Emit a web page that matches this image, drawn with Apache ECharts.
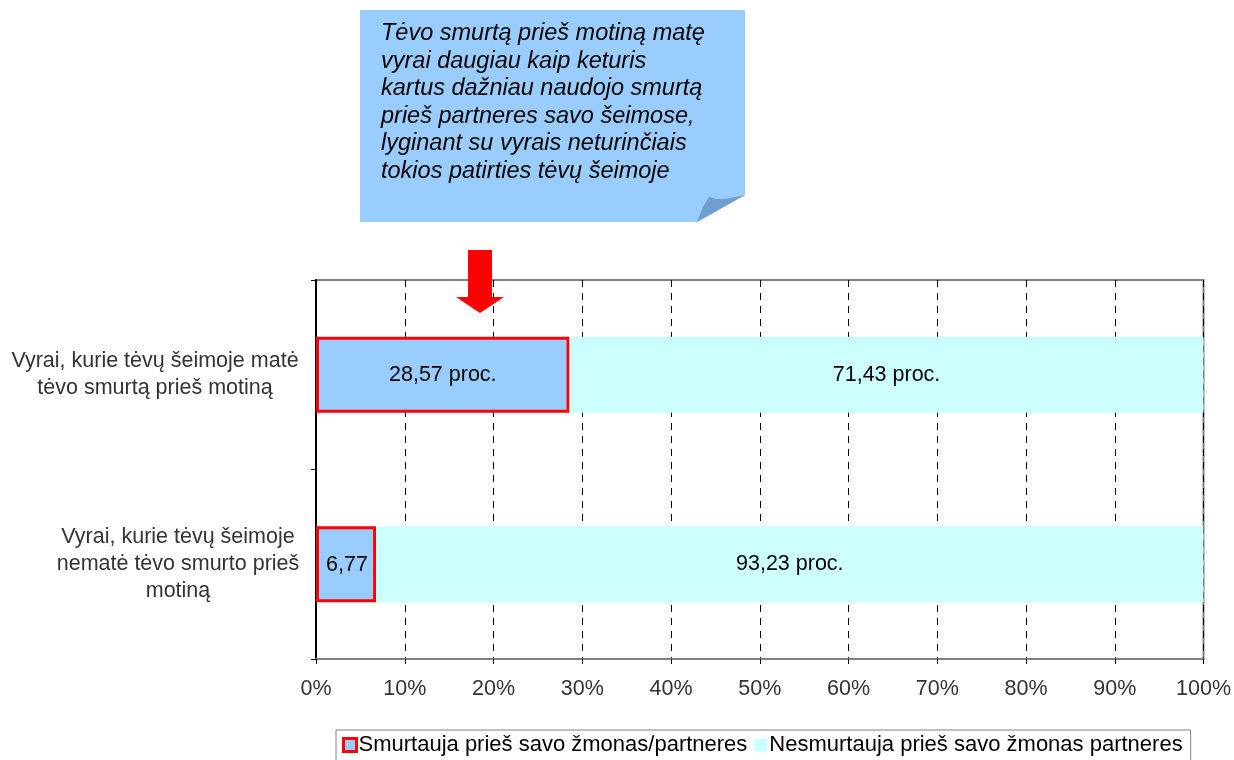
<!DOCTYPE html>
<html>
<head>
<meta charset="utf-8">
<script src="https://cdn.jsdelivr.net/npm/echarts@6/dist/echarts.min.js"></script>
<style>
html,body{margin:0;padding:0;background:#fff;}
#chart{width:1234px;height:760px;}
</style>
</head>
<body>
<div id="chart"></div>
<script>
const categories = [
  'Vyrai, kurie tėvų šeimoje matė\ntėvo smurtą prieš motiną',
  'Vyrai, kurie tėvų šeimoje\nnematė tėvo smurto prieš\nmotiną'
];
const seriesNames = ['Smurtauja prieš savo žmonas/partneres', 'Nesmurtauja prieš savo žmonas partneres'];
const violentValues = [28.57, 6.77];
const nonViolentValues = [71.43, 93.23];
const violentLabels = ['28,57 proc.', '6,77'];
const nonViolentLabels = ['71,43 proc.', '93,23 proc.'];
const xTickLabels = ['0%','10%','20%','30%','40%','50%','60%','70%','80%','90%','100%'];
const calloutText = 'Tėvo smurtą prieš motiną matę\nvyrai daugiau kaip keturis\nkartus dažniau naudojo smurtą\nprieš partneres savo šeimose,\nlyginant su vyrais neturinčiais\ntokios patirties tėvų šeimoje';

const font = '"Liberation Sans", Arial, sans-serif';
const chart = echarts.init(document.getElementById('chart'));
const labelStyles = ['a', 'b'];
const barLabelStyles = ['n', 'o'];

chart.setOption({
  animation: false,
  backgroundColor: '#fff',
  grid: {
    left: 316, right: 29, top: 280, bottom: 101,
    show: true, borderColor: '#808080', borderWidth: 2, backgroundColor: 'transparent'
  },
  xAxis: {
    type: 'value', min: 0, max: 100, interval: 10,
    axisLine: { show: true, lineStyle: { color: '#808080', width: 2 } },
    axisTick: { show: true, length: 5, lineStyle: { color: '#000' } },
    axisLabel: {
      margin: 19, fontFamily: font, fontSize: 21.5, color: '#333',
      formatter: (v) => xTickLabels[Math.round(v / 10)]
    },
    splitLine: { show: true, lineStyle: { color: '#000', type: [7, 6], width: 1 } }
  },
  yAxis: {
    type: 'category', inverse: true, data: categories,
    axisLine: { show: true, lineStyle: { color: '#000', width: 2 } },
    axisTick: { show: true, length: 5, lineStyle: { color: '#000' } },
    axisLabel: {
      margin: 14, align: 'right', fontFamily: font, fontSize: 21.5, color: '#333', lineHeight: 27.5,
      formatter: (v, i) => v.split('\n').map(l => '{' + labelStyles[i] + '|' + l + '}').join('\n'),
      rich: {
        a: { width: 294, align: 'center', fontFamily: font, fontSize: 21.5, color: '#333', lineHeight: 27.5 },
        b: { width: 248, align: 'center', fontFamily: font, fontSize: 21.5, color: '#333', lineHeight: 27 }
      }
    }
  },
  legend: {
    left: 336, top: 730,
    itemWidth: 13, itemHeight: 13, itemGap: 7,
    padding: [4, 8, 12, 6],
    borderColor: '#808080', borderWidth: 1,
    textStyle: { fontFamily: font, fontSize: 22, color: '#000', padding: [0, 0, 0, -3] },
    data: [
      { name: seriesNames[0], icon: 'rect', itemStyle: { color: '#99CCFF', borderColor: '#FF0000', borderWidth: 3 } },
      { name: seriesNames[1], icon: 'rect', itemStyle: { color: '#CCFFFF', borderWidth: 0 } }
    ]
  },
  series: [
    {
      name: seriesNames[0], type: 'bar', stack: 'total', barWidth: 76,
      data: violentValues,
      itemStyle: { color: '#99CCFF', borderColor: '#FF0000', borderWidth: 3 },
      label: {
        show: true, position: 'inside', fontFamily: font, fontSize: 21.5, color: '#000',
        formatter: (p) => '{' + barLabelStyles[p.dataIndex] + '|' + violentLabels[p.dataIndex] + '}',
        rich: {
          n: { fontFamily: font, fontSize: 21.5, color: '#000' },
          o: { fontFamily: font, fontSize: 21.5, color: '#000', backgroundColor: '#99CCFF', padding: [5, 2, 3, 4] }
        }
      }
    },
    {
      name: seriesNames[1], type: 'bar', stack: 'total', barWidth: 76,
      data: nonViolentValues,
      itemStyle: { color: '#CCFFFF' },
      label: {
        show: true, position: 'inside', fontFamily: font, fontSize: 21.5, color: '#000',
        formatter: (p) => nonViolentLabels[p.dataIndex]
      }
    }
  ],
  graphic: [
    {
      type: 'polygon', z: 10,
      shape: { points: [[360, 10], [745, 10], [745, 195], [697, 222], [360, 222]] },
      style: { fill: '#99CCFF' }
    },
    {
      type: 'polygon', z: 11,
      shape: { points: [[697, 222], [703, 207], [709, 197], [716, 199], [725, 199], [745, 195]] },
      style: { fill: '#6F9FCF' }
    },
    {
      type: 'text', z: 12, left: 381, top: 20,
      style: {
        text: calloutText, fontFamily: font, fontStyle: 'italic', fontSize: 23.5,
        lineHeight: 27.5, fill: '#000'
      }
    },
    {
      type: 'polygon', z: 10,
      shape: { points: [[468, 250], [492, 250], [492, 297], [504, 297], [480, 313], [456, 297], [468, 297]] },
      style: { fill: '#FF0000' }
    }
  ]
});
</script>
</body>
</html>
